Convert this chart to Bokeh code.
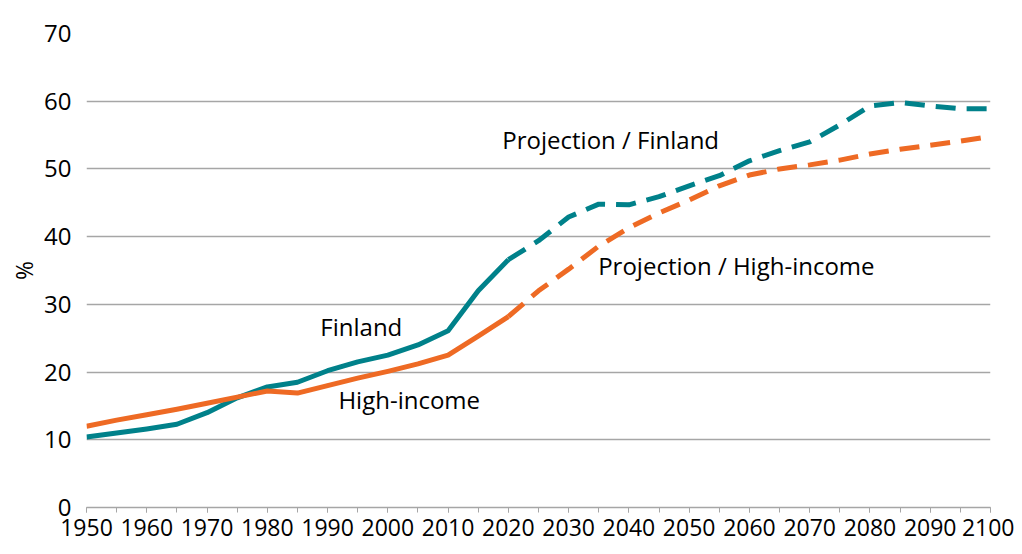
from bokeh.plotting import figure
from bokeh.models import Range1d, FixedTicker, Label
from bokeh.embed import file_html
from bokeh.resources import INLINE

years = list(range(1950, 2101, 5))
finland = [10.4, 11.0, 11.6, 12.3, 14.0, 16.2, 17.8, 18.5, 20.2, 21.5, 22.5, 24.0, 26.1, 32.0, 36.6,
           39.4, 42.9, 44.8, 44.7, 45.9, 47.5, 49.0, 51.2, 52.7, 54.0, 56.5, 59.3, 59.8, 59.3, 58.9, 58.9]
high_income = [12.0, 12.9, 13.7, 14.5, 15.4, 16.3, 17.2, 16.9, 18.0, 19.1, 20.1, 21.2, 22.5, 25.3, 28.2,
               32.0, 35.2, 38.6, 41.3, 43.5, 45.4, 47.5, 49.1, 50.0, 50.6, 51.3, 52.2, 52.9, 53.5, 54.1, 54.8]
last_observed = 2020
y_ticks = [0, 10, 20, 30, 40, 50, 60, 70]
x_ticks = list(range(1950, 2101, 10))

TEAL = "#00818A"
ORANGE = "#EE6A24"
FONT = "Open Sans"

p = figure(frame_width=904, frame_height=474,
           output_backend="svg", toolbar_location=None,
           x_range=Range1d(1950, 2100), y_range=Range1d(0, 70),
           min_border_left=86, min_border_right=24, min_border_top=33, min_border_bottom=39)
p.outline_line_color = None
p.background_fill_color = "white"
p.border_fill_color = "white"

# gridlines
p.xgrid.grid_line_color = None
p.ygrid.grid_line_color = "#A6A6A6"
p.ygrid.grid_line_width = 1.3
p.ygrid.ticker = FixedTicker(ticks=y_ticks)

# y axis
p.yaxis.ticker = FixedTicker(ticks=y_ticks)
p.yaxis.axis_line_color = None
p.yaxis.major_tick_line_color = None
p.yaxis.minor_tick_line_color = None
p.yaxis.major_tick_in = 0
p.yaxis.major_tick_out = 0
p.yaxis.minor_tick_in = 0
p.yaxis.minor_tick_out = 0
p.yaxis.major_label_standoff = 15
p.yaxis.major_label_text_font = FONT
p.yaxis.major_label_text_font_size = "24px"
p.yaxis.major_label_text_color = "#000000"
p.yaxis.axis_label = "%"
p.yaxis.axis_label_text_font = FONT
p.yaxis.axis_label_text_font_size = "23px"
p.yaxis.axis_label_text_font_style = "normal"
p.yaxis.axis_label_text_color = "#000000"
p.yaxis.axis_label_standoff = 1

# x axis
p.xaxis.ticker = FixedTicker(ticks=x_ticks, minor_ticks=years)
p.xaxis.axis_line_color = "#A6A6A6"
p.xaxis.axis_line_width = 1.3
p.xaxis.major_tick_line_color = "#A6A6A6"
p.xaxis.minor_tick_line_color = "#A6A6A6"
p.xaxis.major_tick_in = 0
p.xaxis.major_tick_out = 5
p.xaxis.minor_tick_in = 0
p.xaxis.minor_tick_out = 5
p.xaxis.major_label_standoff = 6
p.xaxis.major_label_text_font = FONT
p.xaxis.major_label_text_font_size = "23px"
p.xaxis.major_label_text_color = "#000000"

# split observed / projection
idx = years.index(last_observed)
p.line(years[:idx + 1], finland[:idx + 1], line_color=TEAL, line_width=5, line_join="round")
p.line(years[idx:], finland[idx:], line_color=TEAL, line_width=5, line_dash="20 11")
p.line(years[:idx + 1], high_income[:idx + 1], line_color=ORANGE, line_width=5, line_join="round")
p.line(years[idx:], high_income[idx:], line_color=ORANGE, line_width=5, line_dash="20 11")

labels = [("Finland", 1988.8, 26.8), ("High-income", 1991.8, 16.0),
          ("Projection / Finland", 2019.0, 54.3), ("Projection / High-income", 2034.9, 35.8)]
for txt, x, y in labels:
    p.add_layout(Label(x=x, y=y, text=txt, text_font=FONT, text_font_size="24px",
                       text_color="#000000", text_baseline="middle", text_align="left"))

open("out.html", "w").write(file_html(p, INLINE))
